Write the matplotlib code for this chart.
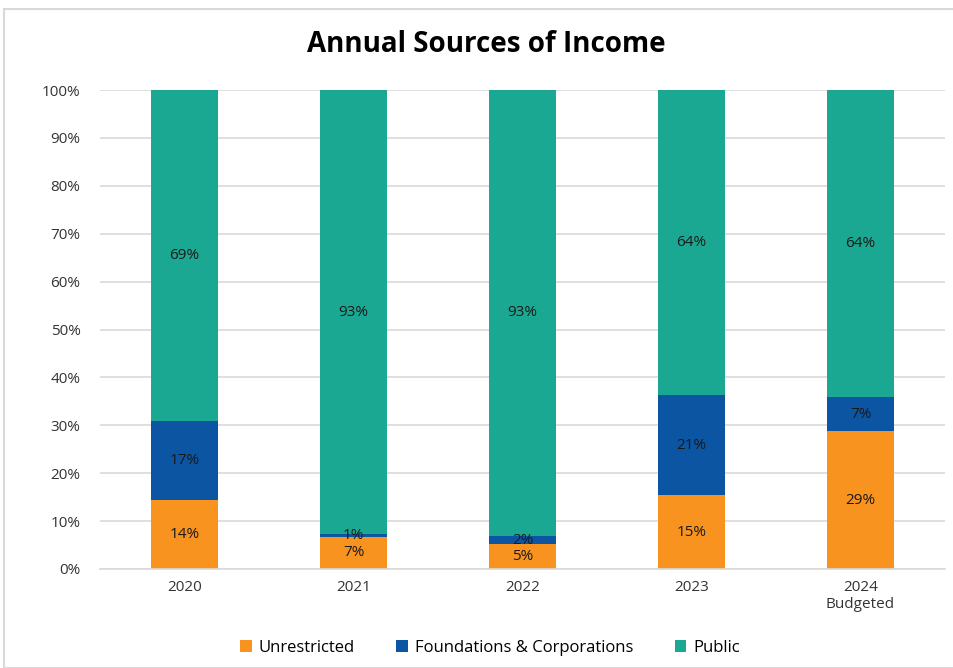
import matplotlib.pyplot as plt
import numpy as np
from matplotlib.patches import Rectangle

years = ['2020', '2021', '2022', '2023', '2024\nBudgeted']
unrestricted = [14.4, 6.7, 5.2, 15.4, 28.8]
foundations = [16.6, 0.6, 1.7, 20.9, 7.1]
public = [69.0, 92.7, 93.1, 63.7, 64.1]

series_names = ['Unrestricted', 'Foundations & Corporations', 'Public']
colors = ['#F7931E', '#0B55A3', '#1AA892']

plt.rcParams['font.family'] = ['Open Sans', 'DejaVu Sans']

fig = plt.figure(figsize=(9.54, 6.68), dpi=100)
ax = fig.add_axes([100 / 954, 1 - 569 / 668, 845 / 954, 479 / 668])

x = np.arange(len(years))
bottom = np.zeros(len(years))
for name, vals, color in zip(series_names, [unrestricted, foundations, public], colors):
    vals = np.array(vals)
    ax.bar(x, vals, 0.4, bottom=bottom, color=color, label=name, zorder=2)
    for xi, b, v in zip(x, bottom, vals):
        ax.text(xi, b + v / 2, '{:.0f}%'.format(v), ha='center', va='center',
                fontsize=11, color='#1a1a1a', zorder=3)
    bottom += vals

ax.set_xlim(-0.5, len(years) - 0.5)
ax.set_ylim(0, 100)
ax.set_yticks(np.arange(0, 101, 10))
ax.set_yticklabels(['{}%'.format(v) for v in range(0, 101, 10)])
ax.set_xticks(x)
ax.set_xticklabels(years)
ax.tick_params(axis='both', length=0, labelsize=11, colors='#333333')
ax.tick_params(axis='y', pad=14)
ax.tick_params(axis='x', pad=8)
ax.yaxis.grid(True, color='#D9D9D9', linewidth=1.2, zorder=0)
for s in ['top', 'right', 'left']:
    ax.spines[s].set_visible(False)
ax.spines['bottom'].set_color('#D9D9D9')
ax.spines['bottom'].set_linewidth(1.2)

fig.text(486 / 954, 1 - 45 / 668, 'Annual Sources of Income', ha='center', va='center',
         fontsize=20, fontweight='bold')

fig.legend(loc='center', bbox_to_anchor=(490 / 954, 1 - 648 / 668), ncol=3, frameon=False,
           fontsize=12, handlelength=0.7, handleheight=0.7, columnspacing=2.5, handletextpad=0.4)

fig.patches.append(Rectangle((4 / 954, 0), 1, 1 - 9 / 668, transform=fig.transFigure,
                             fill=False, edgecolor='#D9D9D9', linewidth=1.5))

plt.savefig('out.png')
plt.close()
